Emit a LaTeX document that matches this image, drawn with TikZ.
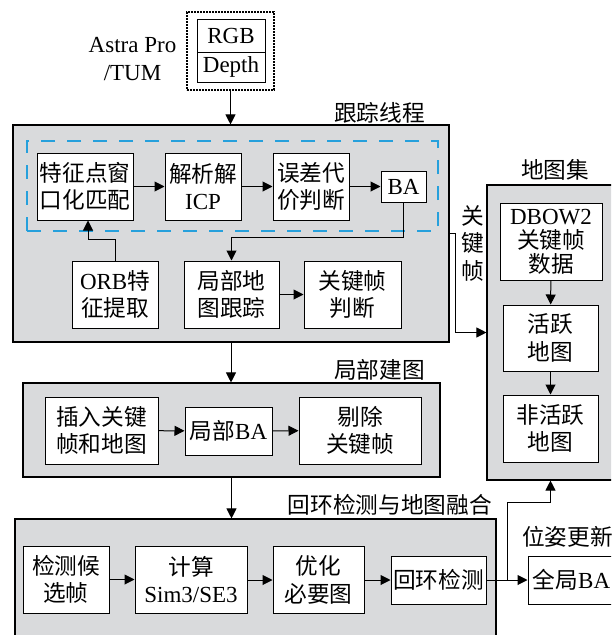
\documentclass[tikz,border=0pt]{standalone}
\usepackage{fontspec}
\setmainfont{Liberation Serif}
\newfontfamily\cjk{Noto Sans CJK SC}[Scale=0.985]
\usetikzlibrary{arrows.meta,calc}
\definecolor{panelgray}{RGB}{217,218,220}
\definecolor{dashblue}{RGB}{38,160,220}
\newcommand\latn[1]{{\rmfamily #1}}
\begin{document}
\begin{tikzpicture}[x=1pt,y=-1pt,
  every node/.style={font=\fontsize{23}{27.5}\cjk, inner sep=0pt, align=center},
  wh/.style 2 args={minimum width=#1pt, minimum height=#2pt},
  box/.style={draw, fill=white, line width=1pt},
  panel/.style={draw, fill=panelgray, line width=1.1pt},
  arr/.style={line width=1pt, -{Triangle[length=10pt,width=10pt]}}]
\clip (0,0) rectangle (611,635);
% input
\node[draw, line width=1.1pt, dash pattern=on 1.6pt off 1.4pt, wh={87}{78}] (inbox) at (230.5,51) {};
\node[box, wh={68}{33}] (rgb) at (231,35.5) {\latn{RGB}};
\node[box, wh={68}{30}] (depth) at (231,67) {\latn{Depth}};
\node[font=\fontsize{23}{28}\cjk] (src) at (132.5,59) {\latn{Astra Pro}\\\latn{/TUM}};
% tracking panel
\node[panel, wh={436}{217}] (track) at (231,233.5) {};
\node[anchor=east] (trackl) at (425,113) {跟踪线程};
\node[draw=dashblue, line width=1.1pt, dash pattern=on 14pt off 12pt, wh={411}{90}] (dbox) at (232.5,186) {};
\node[box, wh={96}{67}] (feat) at (85,186.5) {特征点窗\\口化匹配};
\node[box, wh={76}{67}] (icp) at (203,186.5) {解析解\\\latn{ICP}};
\node[box, wh={76}{67}] (err) at (311,186.5) {误差代\\价判断};
\node[box, wh={45}{31}] (ba) at (403.5,186.5) {\latn{BA}};
\node[box, wh={86}{67}] (orb) at (115,294.5) {\latn{ORB}特\\征提取};
\node[box, wh={95}{67}] (lmt) at (231.5,294.5) {局部地\\图跟踪};
\node[box, wh={97}{67}] (kfd) at (352.5,294.5) {关键帧\\判断};
% local mapping panel
\node[panel, wh={417}{94}] (lm) at (231.5,430) {};
\node[anchor=east] (lml) at (425,370) {局部建图};
\node[box, wh={113}{67}] (ins) at (101.5,430.5) {插入关键\\帧和地图};
\node[box, wh={87}{48}] (lba) at (228.5,431) {局部\latn{BA}};
\node[box, wh={122}{67}] (cull) at (360,430.5) {剔除\\关键帧};
% loop panel
\node[panel, wh={481}{121}] (loop) at (255.5,579.5) {};
\node[anchor=east] (loopl) at (492,505) {回环检测与地图融合};
\node[box, wh={86}{67}] (det) at (66,579.5) {检测候\\选帧};
\node[box, wh={112}{67}] (sim) at (191,579.5) {计算\\\latn{Sim3/SE3}};
\node[box, wh={91}{67}] (opt) at (318.5,580) {优化\\必要图};
\node[box, wh={95}{48}] (lc) at (438.5,580) {回环检测};
\node[box, wh={87}{48}] (gba) at (571.5,580) {全局\latn{BA}};
\node[anchor=west] (posel) at (522,537) {位姿更新};
% atlas panel
\node[panel, wh={127}{295}] (atlas) at (550.5,332.5) {};
\node (atlasl) at (555,170) {地图集};
\node[box, wh={102}{77}, font=\fontsize{23}{24}\cjk] (dbow) at (551,241.5) {\latn{DBOW2}\\关键帧\\数据};
\node[box, wh={95}{66}] (act) at (550.5,338) {活跃\\地图};
\node[box, wh={95}{67}] (inact) at (550.5,428.5) {非活跃\\地图};
\node[font=\fontsize{23}{27.5}\cjk] (kfl) at (473,243) {关\\键\\帧};
% connectors
\draw[arr] (inbox.south) -- (inbox.south |- track.north);
\draw[arr] (feat) -- (icp);
\draw[arr] (icp) -- (err);
\draw[arr] (err) -- (ba);
\coordinate (j1) at (88,239);
\draw[arr] (orb.north) |- (j1) -- (j1 |- feat.south);
\draw[arr] (ba.south) |- ([yshift=23pt]lmt.north) -- (lmt.north);
\draw[arr] (lmt) -- (kfd);
\draw[arr] (track.east) -- ++(6,0) |- (atlas.west);
\draw[arr] (track.south) -- (track.south |- lm.north);
\draw[arr] (ins) -- (lba);
\draw[arr] (lba) -- (cull);
\draw[arr] (lm.south) -- (lm.south |- loop.north);
\draw[arr] (det) -- (sim);
\draw[arr] (sim.east |- opt.west) -- (opt.west);
\draw[arr] (opt) -- (lc);
\draw[arr] (lc) -- (gba);
\coordinate (br) at ($(lc.east)+(21,0)$);
\draw[arr] (br) |- ([yshift=-22pt]atlas.south) -- (atlas.south);
\draw[arr] (dbow) -- (act);
\draw[arr] (act) -- (inact);
\end{tikzpicture}
\end{document}
